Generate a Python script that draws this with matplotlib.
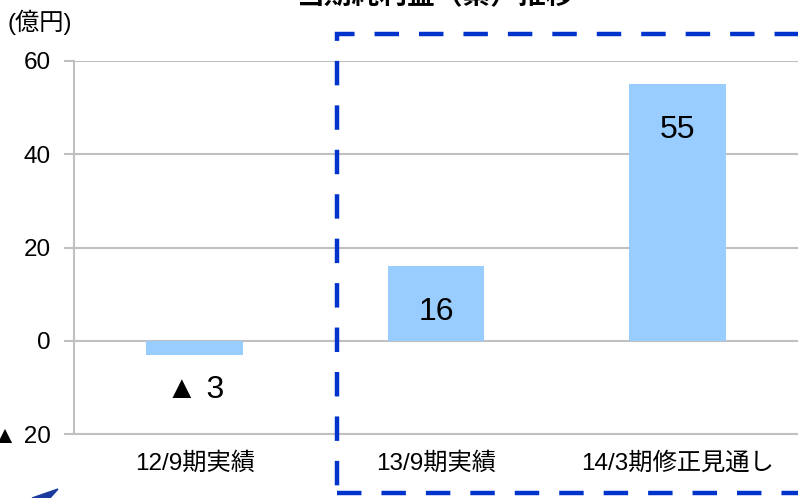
import matplotlib.pyplot as plt
from matplotlib.patches import Rectangle, Polygon

plt.rcParams['font.family'] = ['Liberation Sans', 'Noto Sans CJK JP', 'DejaVu Sans']

categories = ['12/9期実績', '13/9期実績', '14/3期修正見通し']
values = [-3, 16, 55]
value_labels = ['▲ 3', '16', '55']
yticks = [-20, 0, 20, 40, 60]
ytick_labels = ['▲ 20', '0', '20', '40', '60']

W, H = 798, 498
fig = plt.figure(figsize=(7.98, 4.98), dpi=100)
ax = fig.add_axes([74 / W, 1 - 434 / H, 1 - 74 / W, (434 - 61) / H])

x = range(len(categories))
ax.bar(x, values, width=0.4, color='#99CCFF', zorder=3)

ax.set_xlim(-0.5, 2.5)
ax.set_ylim(-20, 60)
ax.set_yticks(yticks)
ax.set_yticklabels(ytick_labels, fontsize=17.5)
ax.set_xticks(list(x))
ax.set_xticklabels(categories, fontsize=17.5)
ax.tick_params(axis='x', length=0, pad=13)
ax.tick_params(axis='y', length=7, width=1.5, color='#C0C0C0', pad=10)
ax.grid(axis='y', color='#C0C0C0', linewidth=1.5, zorder=0)

for s in ['top', 'right']:
    ax.spines[s].set_visible(False)
for s in ['left', 'bottom']:
    ax.spines[s].set_color('#C0C0C0')
    ax.spines[s].set_linewidth(1.5)

# value labels
ax.text(0, -10.5, value_labels[0], ha='center', va='center', fontsize=23)
ax.text(1, 6.2, value_labels[1], ha='center', va='center', fontsize=23)
ax.text(2, 45.3, value_labels[2], ha='center', va='center', fontsize=23)

fig.text(0.01, 0.955, '(億円)', ha='left', va='center', fontsize=17.5)
fig.text(0.545, 0.992, '当期純利益（累）推移', ha='center', va='baseline',
         fontsize=20, fontweight='bold')

# dashed box around the later periods
fig.patches.append(Rectangle((337 / W, 1 - 493 / H), 0.62, (493 - 34) / H,
                             transform=fig.transFigure, fill=False,
                             edgecolor='#0033CC', linewidth=3.2,
                             linestyle=(0, (5.5, 4.5)), zorder=5))

# bit of logo at the bottom edge
fig.patches.append(Polygon([(32 / W, 0), (58 / W, 9 / H), (50 / W, 0)],
                           closed=True, transform=fig.transFigure,
                           color='#1A3A9E'))

fig.savefig('out.png', dpi=100)
